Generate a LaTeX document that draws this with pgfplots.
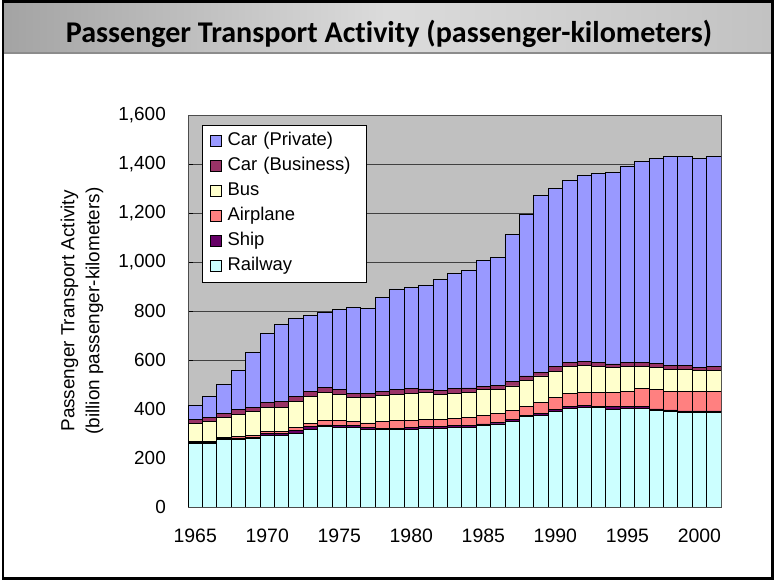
\documentclass[border=0pt]{standalone}
\usepackage{fontspec}
\setmainfont{Liberation Sans}
\newfontfamily\titlefont[Ligatures=NoCommon]{Carlito}
\usepackage{pgfplots}
\pgfplotsset{compat=1.18}
\usepackage{pgfplotstable}
\definecolor{carpriv}{HTML}{9999FF}
\definecolor{carbiz}{HTML}{993366}
\definecolor{busc}{HTML}{FFFFCC}
\definecolor{airc}{HTML}{FF8080}
\definecolor{shipc}{HTML}{660066}
\definecolor{railc}{HTML}{CCFFFF}
\definecolor{plotbg}{HTML}{C0C0C0}

\pgfplotstableread{
year rail ship air bus biz priv
1965 260 5 2 74 17 58
1966 260 5 2 83 14 87
1967 275 5 3 84 15 118
1968 276 6 6 90 21 160
1969 278 7 6 98 19 222
1970 292 9 6 98 21 281
1971 291 9 7 98 26 313
1972 299 15 11 106 19 320
1973 316 12 12 113 20 308
1974 328 7 19 113 20 308
1975 325 7 22 107 17 330
1976 325 7 18 98 16 350
1977 318 7 18 103 17 348
1978 316 5 27 106 19 381
1979 316 5 31 108 19 411
1980 318 7 29 111 18 412
1981 321 6 31 109 15 423
1982 321 6 29 102 17 453
1983 325 7 31 101 19 472
1984 324 8 34 102 18 479
1985 333 6 33 106 13 514
1986 339 7 34 100 15 524
1987 350 6 37 101 19 599
1988 369 5 38 105 18 658
1989 373 9 44 109 15 721
1990 389 10 47 109 18 726
1991 403 7 54 109 17 742
1992 405 9 54 108 17 762
1993 408 4 56 106 16 771
1994 399 11 58 102 14 781
1995 403 7 63 100 16 803
1996 403 8 72 91 15 822
1997 395 5 78 91 17 837
1998 389 7 76 90 14 854
1999 385 7 81 89 14 854
2000 385 7 81 86 11 854
2001 386 6 81 86 15 855
}\data

\begin{document}
\begin{tikzpicture}[x=1bp,y=1bp]
\useasboundingbox (0,0) rectangle (774,581);
\fill[white] (0,0) rectangle (774,581);
\shade[left color=black!36, right color=black!24, middle color=black!14] (3,528) rectangle (772,579);
\draw[black!45, line width=1.2bp] (3,528) -- (772,528);
\node[font=\titlefont\bfseries\fontsize{30.2}{36}\selectfont, anchor=base] at (389,538.5) {Passenger Transport Activity (passenger-kilometers)};

\begin{axis}[
  at={(188bp,74bp)}, anchor=south west,
  width=533bp, height=392bp, scale only axis,
  ybar stacked, bar width=1,
  xmin=1964.5, xmax=2001.5, ymin=0, ymax=1600,
  ytick={0,200,...,1600}, xtick={1965,1970,...,2000},
  axis background/.style={fill=plotbg},
  ymajorgrids, grid style={black!75, line width=0.9bp},
  axis line style={black!70, line width=0.9bp},
  tick align=inside, major tick length=5bp,
  xtick style={draw=none}, ytick style={black, line width=0.9bp},
  yticklabel style={font=\fontsize{19}{22}\selectfont, /pgf/number format/assume math mode=true, /pgf/number format/1000 sep={,}, anchor=east, inner sep=0pt, xshift=-22bp},
  xticklabel style={font=\fontsize{19.5}{22}\selectfont, /pgf/number format/assume math mode=true, /pgf/number format/1000 sep={}, anchor=north, inner sep=0pt, yshift=-22bp},
  ylabel={Passenger Transport Activity\\(billion passenger-kilometers)},
  every axis y label/.style={at={(axis description cs:-0.199,0.5)}, rotate=90, anchor=center, align=center, font=\fontsize{19}{25}\selectfont},
  every axis plot/.append style={draw=black, line width=0.8bp},
  legend style={at={(rel axis cs:0.026,0.975)}, anchor=north west, draw=black, line width=0.8bp, fill=white,
    font=\fontsize{18.5}{21}\selectfont, inner xsep=7.5bp, inner ysep=7.5bp, row sep=8bp,
    nodes={inner sep=0pt, text height=13bp, text depth=4bp},
    /tikz/every odd column/.append style={column sep=6bp},
    /tikz/every even column/.append style={text width=131bp}},
  legend cell align=left, reverse legend,
  legend image code/.code={\draw[#1, line width=0.8bp] (0bp,-5.5bp) rectangle (11bp,5.5bp);},
]
\addplot[fill=railc] table[x=year,y=rail] \data;
\addplot[fill=shipc] table[x=year,y=ship] \data;
\addplot[fill=airc] table[x=year,y=air] \data;
\addplot[fill=busc] table[x=year,y=bus] \data;
\addplot[fill=carbiz] table[x=year,y=biz] \data;
\addplot[fill=carpriv] table[x=year,y=priv] \data;
\legend{Railway,Ship,Airplane,Bus,Car (Business),Car (Private)}
\end{axis}
\draw[line width=2.5bp] (3,2.5) rectangle (772.5,579.5);
\end{tikzpicture}
\end{document}
